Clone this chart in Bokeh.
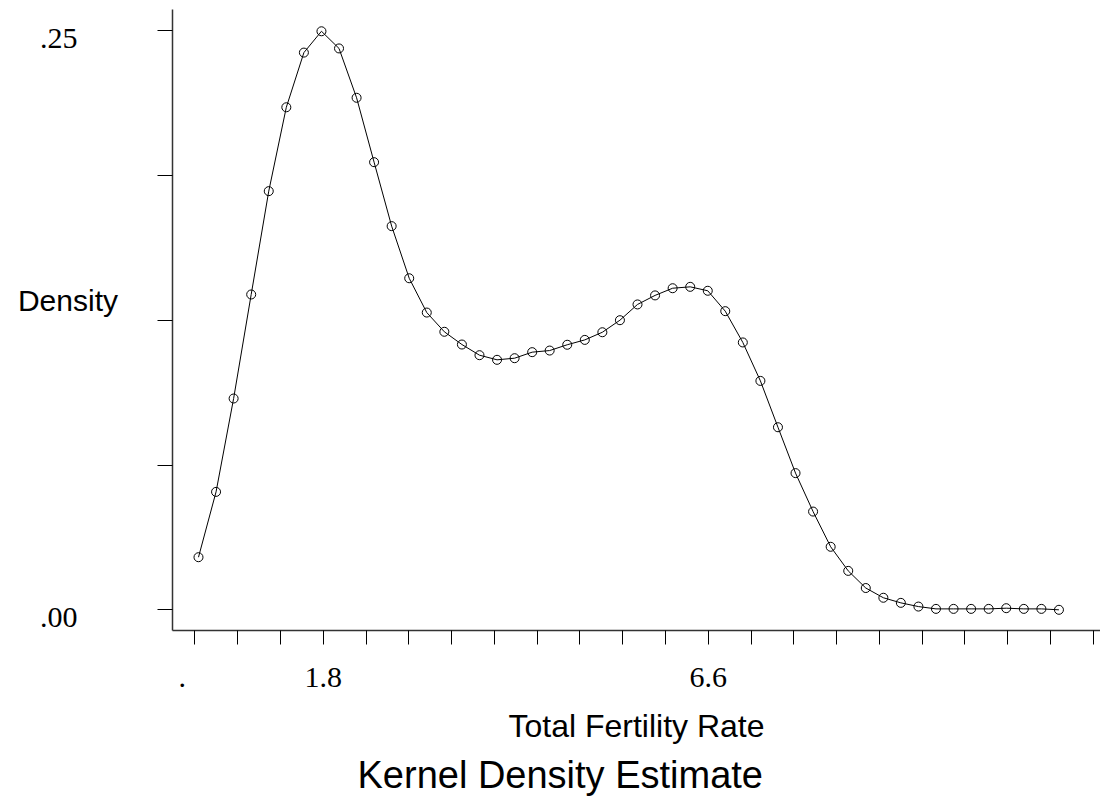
from bokeh.plotting import figure
from bokeh.models import FixedTicker, Range1d, Title
from bokeh.embed import file_html
from bokeh.resources import INLINE

# Total fertility rate grid (x) and kernel density estimate (y)
tfr = [0.245, 0.464, 0.683, 0.902, 1.121, 1.340, 1.559, 1.778, 1.997, 2.216,
       2.434, 2.653, 2.872, 3.091, 3.310, 3.529, 3.748, 3.967, 4.186, 4.405,
       4.623, 4.842, 5.061, 5.280, 5.499, 5.718, 5.937, 6.156, 6.375, 6.594,
       6.812, 7.031, 7.250, 7.469, 7.688, 7.907, 8.126, 8.345, 8.564, 8.783,
       9.001, 9.220, 9.439, 9.658, 9.877, 10.096, 10.315, 10.534, 10.753, 10.972]
density = [0.0227, 0.0509, 0.0912, 0.1361, 0.1807, 0.2169, 0.2405, 0.2497, 0.2423, 0.2210,
           0.1932, 0.1656, 0.1431, 0.1283, 0.1200, 0.1145, 0.1099, 0.1079, 0.1086, 0.1112,
           0.1119, 0.1144, 0.1165, 0.1198, 0.1250, 0.1318, 0.1357, 0.1388, 0.1394, 0.1377,
           0.1289, 0.1154, 0.0988, 0.0788, 0.0590, 0.0424, 0.0272, 0.0168, 0.0094, 0.0052,
           0.0030, 0.0014, 0.0004, 0.0004, 0.0004, 0.0004, 0.0007, 0.0004, 0.0004, 0.0000]

# tick marks
x_tick_marks = [0.2, 0.7333, 1.2667, 1.8, 2.3333, 2.8667, 3.4, 3.9333, 4.4667, 5.0, 5.5333,
                6.0667, 6.6, 7.1333, 7.6667, 8.2, 8.7333, 9.2667, 9.8, 10.3333, 10.8667, 11.4]
y_tick_marks = [0.0, 0.0625, 0.125, 0.1875, 0.25]
# tick labels
x_label_at = [0.042, 1.8, 6.6]
x_label_text = [".", "1.8", "6.6"]
y_label_at = [-0.0033, 0.2467]
y_label_text = [".00", ".25"]

p = figure(width=1100, height=800, output_backend="svg", toolbar_location=None,
           x_range=Range1d(-0.079, 11.49), y_range=Range1d(-0.00893, 0.2591),
           min_border_left=172, min_border_right=0, min_border_top=9, min_border_bottom=170)
p.title.visible = False
p.outline_line_color = None
p.xgrid.grid_line_color = None
p.ygrid.grid_line_color = None
p.background_fill_color = "white"
p.border_fill_color = "white"

p.xaxis.ticker = FixedTicker(ticks=x_label_at, minor_ticks=x_tick_marks)
p.xaxis.major_label_overrides = dict(zip(x_label_at, x_label_text))
p.yaxis.ticker = FixedTicker(ticks=y_label_at, minor_ticks=y_tick_marks)
p.yaxis.major_label_overrides = dict(zip(y_label_at, y_label_text))

for ax in (p.xaxis, p.yaxis):
    ax.axis_line_color = "#333333"
    ax.axis_line_width = 1.5
    ax.major_tick_line_color = None
    ax.minor_tick_line_color = "black"
    ax.major_tick_in = 0
    ax.minor_tick_in = 0
    ax.major_label_text_font = "Liberation Serif"
    ax.major_label_text_font_size = "30px"
    ax.major_label_text_color = "black"
    ax.axis_label_text_font = "Liberation Sans"
    ax.axis_label_text_font_style = "normal"
    ax.axis_label_text_color = "black"

p.xaxis.major_tick_out = 14
p.xaxis.minor_tick_out = 14
p.xaxis.major_label_standoff = 23
p.xaxis.axis_label = "Total Fertility Rate"
p.xaxis.axis_label_text_font_size = "32px"
p.xaxis.axis_label_standoff = 18

p.yaxis.major_tick_out = 15
p.yaxis.minor_tick_out = 15
p.yaxis.major_label_standoff = 80
p.yaxis.axis_label = "Density\n\u00a0"
p.yaxis.axis_label_text_font_size = "30px"
p.yaxis.axis_label_standoff = -81
try:
    p.yaxis.axis_label_orientation = "horizontal"
except AttributeError:
    pass

p.add_layout(Title(text="Kernel Density Estimate", align="left", offset=185,
                   text_font="Liberation Sans", text_font_size="38px",
                   text_font_style="normal", text_color="black"), "below")

p.line(tfr, density, line_color="black", line_width=1)
p.scatter(tfr, density, marker="circle", size=9, fill_color=None,
          line_color="black", line_width=1)

open("out.html", "w").write(file_html(p, INLINE))
